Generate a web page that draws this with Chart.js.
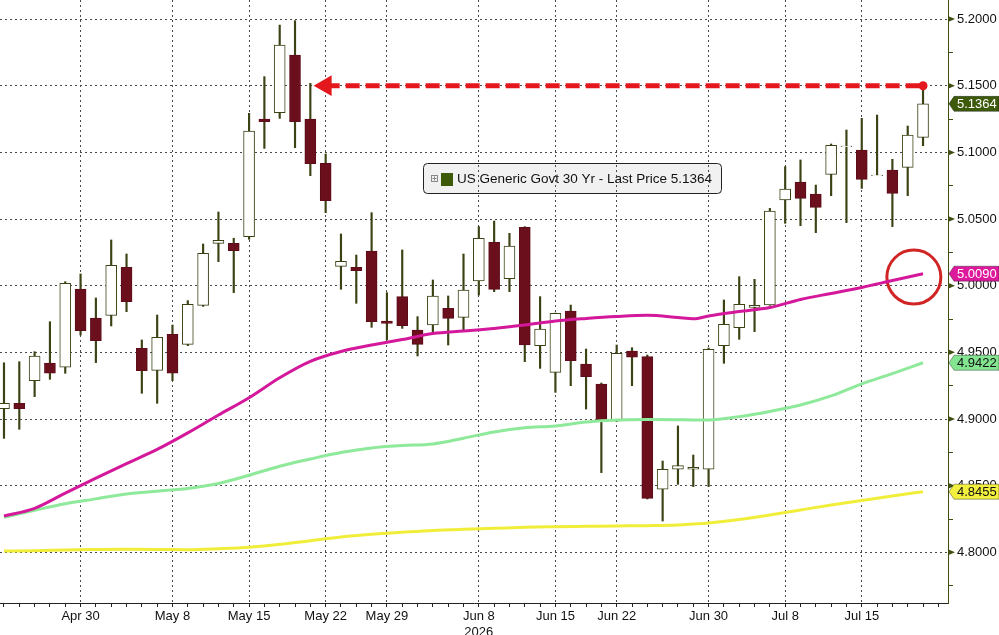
<!DOCTYPE html>
<html>
<head>
<meta charset="utf-8">
<script src="https://cdn.jsdelivr.net/npm/chart.js@4.4.1/dist/chart.umd.min.js"></script>
<style>
html,body{margin:0;padding:0;background:#fff;}
#wrap{width:999px;height:635px;position:relative;background:#fff;}
</style>
</head>
<body>
<div id="wrap"><canvas id="chart"></canvas></div>
<script>

/* -------- DATA -------- */

const days = ['Apr 23','Apr 24','Apr 27','Apr 28','Apr 29','Apr 30','May 1','May 4','May 5','May 6','May 7','May 8',
'May 11','May 12','May 13','May 14','May 15','May 18','May 19','May 20','May 21','May 22','May 26','May 27','May 28','May 29',
'Jun 1','Jun 2','Jun 3','Jun 4','Jun 5','Jun 8','Jun 9','Jun 10','Jun 11','Jun 12','Jun 15','Jun 16','Jun 17','Jun 18',
'Jun 22','Jun 23','Jun 24','Jun 25','Jun 26','Jun 29','Jun 30','Jul 1','Jul 2','Jul 6','Jul 7','Jul 8','Jul 9','Jul 10',
'Jul 13','Jul 14','Jul 15','Jul 16','Jul 17','Jul 20','Jul 21'];

const tickLabels = ['Apr 30','May 8','May 15','May 22','May 29','Jun 8','Jun 15','Jun 22','Jun 30','Jul 8','Jul 15'];
const yearLabel = {at:'Jun 8', text:'2026'};

const open = [4.9078,4.9118,4.9288,4.9420,4.9388,4.9975,4.9758,4.9778,5.0138,4.9530,4.9365,4.9636,
4.9560,4.9853,5.0318,5.0318,5.0368,5.1250,5.1298,5.1730,5.1250,5.0918,5.0145,5.0138,5.0260,4.9735,
4.9918,4.9668,4.9705,4.9830,4.9763,5.0035,5.0325,5.0053,5.0438,4.9550,4.9350,4.9810,4.9413,4.9263,
4.8985,4.9510,4.9468,4.8473,4.8623,4.8623,4.8623,4.9550,4.9685,4.9838,4.9855,5.0643,5.0778,5.0688,
5.0835,5.1043,5.1018,5.0825,5.0868,5.0888,5.1113];

const high = [4.9422,4.9430,4.9505,4.9730,5.0030,5.0088,4.9908,5.0343,5.0238,4.9593,4.9780,4.9705,
4.9888,5.0313,5.0553,5.0356,5.1293,5.1568,5.1955,5.1988,5.1518,5.0988,5.0388,5.0230,5.0548,4.9948,
5.0268,4.9768,5.0043,4.9923,5.0238,5.0443,5.0485,5.0393,5.0443,4.9918,4.9795,4.9855,4.9525,4.9270,
4.9555,4.9535,4.9480,4.8685,4.8948,4.8730,4.9533,4.9893,5.0068,5.0048,5.0580,5.0893,5.0943,5.0755,
5.1063,5.1168,5.1255,5.1280,5.0948,5.1198,5.1493];

const low = [4.8855,4.8923,4.9168,4.9298,4.9343,4.9630,4.9423,4.9698,4.9805,4.9193,4.9118,4.9288,
4.9550,4.9845,5.0180,4.9948,5.0348,5.1030,5.1255,5.1035,5.0825,5.0548,4.9973,4.9868,4.9688,4.9593,
4.9680,4.9473,4.9648,4.9555,4.9655,4.9930,4.9955,4.9955,4.9430,4.9380,4.9200,4.9250,4.9075,4.8598,
4.8980,4.9250,4.8400,4.8235,4.8510,4.8493,4.8493,4.9418,4.9598,4.9655,4.9853,5.0468,5.0450,5.0398,
5.0675,5.0473,5.0730,5.0825,5.0443,5.0675,5.1050];

const close = [4.9118,4.9078,4.9473,4.9343,5.0018,4.9663,4.9588,5.0153,4.9880,4.9363,4.9613,4.9343,
4.9860,5.0243,5.0340,5.0263,5.1160,5.1230,5.1805,5.1230,5.0915,5.0638,5.0183,5.0113,4.9730,4.9718,
4.9700,4.9560,4.9923,4.9755,4.9968,5.0355,4.9973,5.0298,4.9555,4.9675,4.9793,4.9438,4.9318,4.8993,
4.9493,4.9463,4.8405,4.8623,4.8650,4.8638,4.9523,4.9710,4.9860,4.9853,5.0560,5.0725,5.0655,5.0588,
5.1053,5.1048,5.0798,5.0830,5.0693,5.1130,5.1364];

// moving averages, read at these candle positions
const maIdx = [0,2,4,6,8,10,12,14,16,18,20,22,24,26,28,30,32,34,36,38,40,42,44,45,46,48,50,52,54,56,58,60];

const ma50 = [4.8272,4.8330,4.8444,4.8556,4.8666,4.8772,4.8896,4.9030,4.9160,4.9310,4.9433,4.9507,
4.9555,4.9596,4.9641,4.9660,4.9679,4.9705,4.9735,4.9754,4.9769,4.9778,4.9762,4.9752,4.9773,4.9806,
4.9836,4.9897,4.9942,4.9987,5.0039,5.0090];

const ma100 = [4.8262,4.8315,4.8365,4.8401,4.8438,4.8459,4.8479,4.8516,4.8578,4.8646,4.8700,4.8749,
4.8783,4.8801,4.8813,4.8856,4.8903,4.8934,4.8948,4.8978,4.8993,4.8997,4.8995,4.8993,4.8993,4.9018,
4.9057,4.9105,4.9173,4.9263,4.9341,4.9422];

const ma200 = [4.8010,4.8012,4.8018,4.8021,4.8023,4.8022,4.8020,4.8027,4.8038,4.8060,4.8087,4.8115,
4.8135,4.8150,4.8164,4.8173,4.8180,4.8188,4.8192,4.8195,4.8198,4.8200,4.8205,4.8212,4.8220,4.8246,
4.8280,4.8318,4.8355,4.8389,4.8423,4.8455];

const yMajor = [4.80,4.85,4.90,4.95,5.00,5.05,5.10,5.15,5.20];

const arrowLevel = 5.15;
const arrowFrom = 'May 22';
const ringAt = {x:59.4, y:5.0065};

const title = 'US Generic Govt 30 Yr - Last Price';


/* -------- HELPERS -------- */

const last = days.length - 1;

const isUp = i => close[i] >= open[i];

const isMajor = v => Math.abs(v*20 - Math.round(v*20)) < 1e-6;

const yTicks = [yMajor[0]-0.025].concat(yMajor.flatMap(v => [v, v+0.025]));

const maLine = arr => maIdx.map((x,k) => ({x:x, y:arr[k]}));

const tags = [
{v:close[last], bg:'#3d5a0b', fg:'#ffffff'},
{v:ma50[ma50.length-1], bg:'#dd1a9c', fg:'#ffffff'},
{v:ma100[ma100.length-1], bg:'#84e591', fg:'#111111'},
{v:ma200[ma200.length-1], bg:'#f2ef3e', fg:'#111111'}
];

const FONT = '"Liberation Sans", Arial, sans-serif';

const noPad = s => { s.paddingLeft = 0; s.paddingRight = 0; s.paddingTop = 0; s.paddingBottom = 0; };


/* -------- OVERLAY -------- */

const overlay = {

id:'overlay',

beforeDraw(c){

const ctx = c.ctx;

ctx.save();

const bx=423.5, by=163.5, bw=298, bh=30;

ctx.beginPath();
ctx.roundRect(bx,by,bw,bh,4);
ctx.fillStyle='#f1f1f1';
ctx.fill();
ctx.strokeStyle='#222';
ctx.lineWidth=1;
ctx.stroke();

ctx.strokeStyle='#8a8a8a';
ctx.strokeRect(431.5,175.5,6,6);
ctx.beginPath();
ctx.moveTo(432.5,178.5); ctx.lineTo(436.5,178.5);
ctx.moveTo(434.5,176.5); ctx.lineTo(434.5,180.5);
ctx.stroke();

ctx.fillStyle='#3d5a0b';
ctx.fillRect(441,173,12,13);

ctx.fillStyle='#111';
ctx.font='13.5px '+FONT;
ctx.textBaseline='middle';
ctx.fillText(title+' '+close[last].toFixed(4),457,179.5);

ctx.restore();

},

afterDraw(c){

const ctx = c.ctx;
const y = c.scales.y;

ctx.save();

// arrow markers on the price axis
ctx.fillStyle='#3f4f12';
yMajor.forEach(v => {
const py = y.getPixelForValue(v);
ctx.beginPath();
ctx.moveTo(y.left, py-3);
ctx.lineTo(y.left+7, py);
ctx.lineTo(y.left, py+3);
ctx.closePath();
ctx.fill();
});

// last value tags
ctx.font='13px '+FONT;
ctx.textBaseline='middle';
tags.forEach(t => {
const py = y.getPixelForValue(t.v);
const x0 = y.left+1;
ctx.beginPath();
ctx.moveTo(x0, py);
ctx.lineTo(x0+5, py-7.5);
ctx.lineTo(999, py-7.5);
ctx.lineTo(999, py+7.5);
ctx.lineTo(x0+5, py+7.5);
ctx.closePath();
ctx.fillStyle=t.bg;
ctx.fill();
ctx.strokeStyle='rgba(0,0,0,0.35)';
ctx.lineWidth=1;
ctx.stroke();
ctx.fillStyle=t.fg;
ctx.fillText(t.v.toFixed(4), x0+8, py+0.5);
});

ctx.restore();

}

};


/* -------- CHART -------- */

const candles = days.map((d,i) => ({x:i, y:[open[i], close[i]]}));
const wicks = days.map((d,i) => ({x:i, y:[low[i], high[i]]}));

new Chart(document.getElementById('chart'), {

type:'bar',

data:{

datasets:[

{type:'line', data:maLine(ma50), borderColor:'#d4189b', borderWidth:3, pointRadius:0, cubicInterpolationMode:'monotone', order:0},

{type:'line', data:maLine(ma100), borderColor:'#8ee99a', borderWidth:3, pointRadius:0, cubicInterpolationMode:'monotone', order:0},

{type:'line', data:maLine(ma200), borderColor:'#f1ee3a', borderWidth:3, pointRadius:0, cubicInterpolationMode:'monotone', order:0},

{type:'line',
data:[{x:days.indexOf(arrowFrom), y:arrowLevel},{x:last, y:arrowLevel}],
borderColor:'#e3171c', borderWidth:5, borderDash:[14,6],
pointStyle:['triangle','circle'], pointRadius:[12,4.5], pointRotation:[-90,0],
pointBackgroundColor:'#e3171c', pointBorderColor:'#e3171c', pointBorderWidth:0, order:0},

{type:'line', data:[ringAt], showLine:false,
pointRadius:27, pointBorderWidth:3, pointBorderColor:'#d12525', pointBackgroundColor:'rgba(0,0,0,0)', order:0},

{data:candles, barThickness:11, grouped:false,
backgroundColor: c => isUp(c.dataIndex) ? '#ffffff' : '#6b0f1d',
borderColor: c => isUp(c.dataIndex) ? '#3c4214' : '#5c0d19',
borderWidth:1, borderSkipped:false, order:1},

{data:wicks, barThickness:1.5, grouped:false, backgroundColor:'#3c4214', borderWidth:0, order:2}

]

},

options:{

responsive:true,
maintainAspectRatio:false,
animation:false,
layout:{padding:0, autoPadding:false},

plugins:{legend:{display:false}, tooltip:{enabled:false}},

scales:{

x:{
type:'linear', min:-0.26, max:61.63, offset:false,
afterBuildTicks: s => { s.ticks = days.map((d,i) => ({value:i})).concat([{value:days.length}]); },
afterFit: s => { s.height = 32; noPad(s); },
ticks:{
autoSkip:false, maxRotation:0, padding:2, color:'#111', font:{family:FONT, size:13},
callback: v => {
const d = days[v];
if(!tickLabels.includes(d)) return '';
return d === yearLabel.at ? [d, yearLabel.text] : d;
}
},
grid:{
offset:false,
color: c => (c.tick && tickLabels.includes(days[c.tick.value])) ? '#4a4a4a' : 'rgba(0,0,0,0)',
tickColor:'#222', tickLength:4, tickBorderDash:[], lineWidth:1
},
border:{color:'#222', dash:[2,3]}
},

y:{
position:'right', min:4.762, max:5.2143, beginAtZero:false,
afterBuildTicks: s => { s.ticks = yTicks.map(v => ({value:v})); },
afterFit: s => { s.width = 51; noPad(s); },
ticks:{
padding:4, color:'#111', font:{family:FONT, size:13},
callback: v => isMajor(v) ? v.toFixed(4) : ''
},
grid:{
color: c => (c.tick && isMajor(c.tick.value)) ? '#4a4a4a' : 'rgba(0,0,0,0)',
tickColor:'#3f4f12', tickLength:5, tickBorderDash:[], lineWidth:1
},
border:{color:'#3f4f12', dash:[2,3]}
}

}

},

plugins:[overlay]

});

</script>
</body>
</html>
